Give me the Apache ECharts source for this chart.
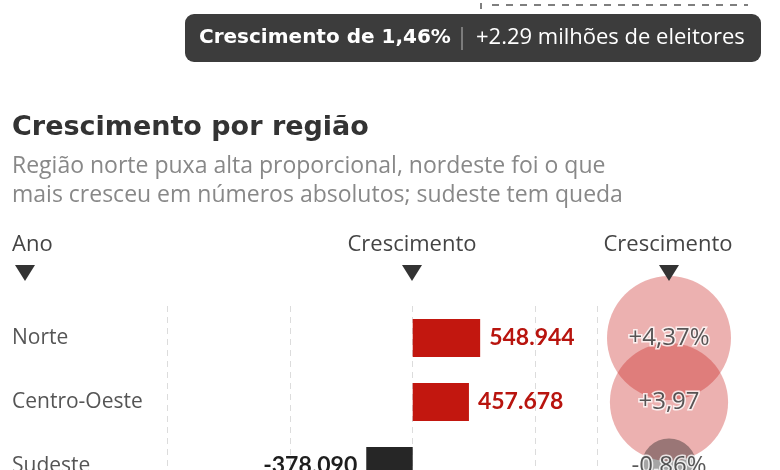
<!DOCTYPE html>
<html>
<head>
<meta charset="utf-8">
<script src="https://cdn.jsdelivr.net/npm/echarts@6/dist/echarts.min.js"></script>
<style>
  html, body { margin: 0; padding: 0; background: #fff; }
  #echart { width: 780px; height: 470px; }
</style>
</head>
<body>
<div id="echart"></div>
<script>
// dados
var regioes = ['Norte', 'Centro-Oeste', 'Sudeste'];
var crescimentoAbs = [548944, 457678, -378090];
var crescimentoPct = [4.37, 3.97, -0.86];
var rotulosPct = ['+4,37%', '+3,97', '-0,86%'];

function fmtMil(v) {
  var s = String(Math.abs(v)).replace(/\B(?=(\d{3})+(?!\d))/g, '.');
  return (v < 0 ? '-' : '') + s;
}

var SANS = '"Open Sans", "Noto Sans", sans-serif';
var BOLD = 'Lato, "Open Sans", sans-serif';
var HEAVY = '"DejaVu Sans", sans-serif';

var myChart = echarts.init(document.getElementById('echart'));

myChart.setOption({
  animation: false,
  grid: [
    { left: 167, top: 306, width: 430, height: 192, outerBoundsMode: 'none', containLabel: false },
    { left: 600, top: 306, width: 138, height: 192, outerBoundsMode: 'none', containLabel: false }
  ],
  xAxis: [
    {
      type: 'value', gridIndex: 0,
      min: -2000000, max: 1500000, interval: 1000000,
      axisLine: { show: false }, axisTick: { show: false }, axisLabel: { show: false },
      splitLine: { show: true, lineStyle: { color: '#dcdcdc', type: [6, 5], width: 1 } }
    },
    { type: 'value', gridIndex: 1, min: 0, max: 1, show: false }
  ],
  yAxis: [
    {
      type: 'category', gridIndex: 0, data: regioes, inverse: true,
      axisLine: { show: false }, axisTick: { show: false },
      axisLabel: {
        align: 'left', margin: 155,
        fontFamily: SANS, fontSize: 21, color: '#555'
      }
    },
    { type: 'category', gridIndex: 1, data: regioes, inverse: true, show: false }
  ],
  series: [
    {
      type: 'bar',
      xAxisIndex: 0, yAxisIndex: 0,
      barWidth: 38,
      data: crescimentoAbs.map(function (v) {
        var neg = v < 0;
        return {
          value: v,
          itemStyle: { color: neg ? '#262626' : '#c2170f' },
          label: {
            show: true,
            position: neg ? 'left' : 'right',
            distance: 9,
            formatter: function () { return fmtMil(v); },
            fontFamily: BOLD, fontWeight: 'bold', fontSize: 23,
            color: neg ? '#1e1e1e' : '#b8140e'
          }
        };
      })
    },
    {
      type: 'scatter',
      xAxisIndex: 1, yAxisIndex: 1,
      clip: false,
      data: crescimentoPct.map(function (p, i) {
        var neg = p < 0;
        return {
          value: [0.5, i],
          symbolSize: 124 * Math.sqrt(Math.abs(p) / 4.37),
          itemStyle: { color: neg ? 'rgba(30,30,30,0.5)' : 'rgba(200,25,20,0.42)' },
          label: {
            show: true, position: 'inside',
            formatter: rotulosPct[i],
            fontFamily: SANS, fontSize: 24, color: '#2e2e2e',
            textBorderColor: '#fff', textBorderWidth: 3
          }
        };
      })
    }
  ],
  graphic: [
    // linha tracejada do topo
    { type: 'line', shape: { x1: 481, y1: 3, x2: 481, y2: 9 }, style: { stroke: '#555', lineWidth: 1.5 } },
    { type: 'line', shape: { x1: 492, y1: 5, x2: 748, y2: 5 }, style: { stroke: '#555', lineWidth: 1.5, lineDash: [7, 7] } },
    // caixa escura
    { type: 'rect', shape: { x: 185, y: 14, width: 576, height: 48, r: 9 }, style: { fill: '#3c3c3c' } },
    { type: 'text', x: 199, y: 38, style: { text: 'Crescimento de 1,46%', fill: '#fff', font: 'bold 20px ' + HEAVY, verticalAlign: 'middle' } },
    { type: 'line', shape: { x1: 462, y1: 27, x2: 462, y2: 50 }, style: { stroke: '#bbb', lineWidth: 1 } },
    { type: 'text', x: 476, y: 38, style: { text: '+2.29 milhões de eleitores', fill: '#fff', font: '22px ' + SANS, verticalAlign: 'middle' } },
    // título e subtítulo
    { type: 'text', x: 12, y: 128, style: { text: 'Crescimento por região', fill: '#333', font: 'bold 27px ' + HEAVY, verticalAlign: 'middle' } },
    { type: 'text', x: 12, y: 166, style: { text: 'Região norte puxa alta proporcional, nordeste foi o que', fill: '#888', font: '23px ' + SANS, verticalAlign: 'middle' } },
    { type: 'text', x: 12, y: 195, style: { text: 'mais cresceu em números absolutos; sudeste tem queda', fill: '#888', font: '23px ' + SANS, verticalAlign: 'middle' } },
    // cabeçalhos
    { type: 'text', x: 12, y: 245, style: { text: 'Ano', fill: '#444', font: '22px ' + SANS, verticalAlign: 'middle' } },
    { type: 'text', x: 412, y: 245, style: { text: 'Crescimento', fill: '#444', font: '22px ' + SANS, align: 'center', verticalAlign: 'middle' } },
    { type: 'text', x: 668, y: 245, style: { text: 'Crescimento', fill: '#444', font: '22px ' + SANS, align: 'center', verticalAlign: 'middle' } },
    { type: 'polygon', shape: { points: [[15, 265], [35, 265], [25, 281]] }, style: { fill: '#333' } },
    { type: 'polygon', shape: { points: [[402, 265], [422, 265], [412, 281]] }, style: { fill: '#333' } },
    { type: 'polygon', shape: { points: [[659, 265], [679, 265], [669, 281]] }, style: { fill: '#333' }, z: 100 }
  ]
});
</script>
</body>
</html>
